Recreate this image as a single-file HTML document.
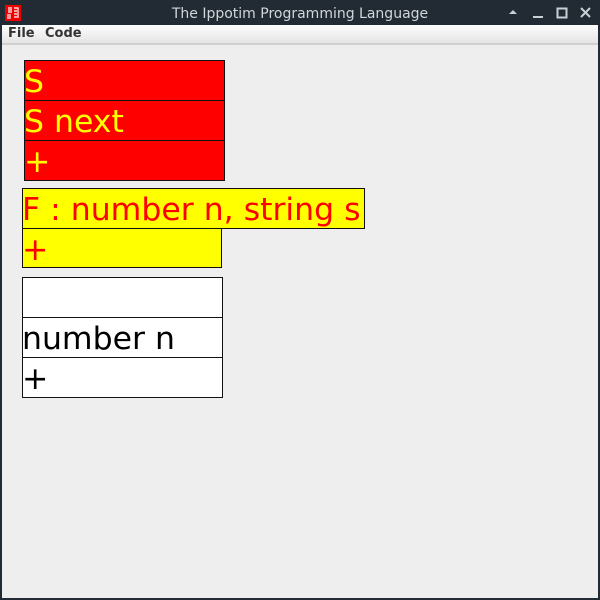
<!DOCTYPE html>
<html><head><style>
*{margin:0;padding:0;box-sizing:border-box}
body{width:600px;height:600px;background:#222b33;position:relative;overflow:hidden;font-family:"DejaVu Sans","Liberation Sans",sans-serif}
.title{position:absolute;left:0;top:0;width:600px;height:25px;color:#d0d6da;font-size:14px;text-align:center;line-height:29px}
.menu{position:absolute;left:2px;top:25px;width:596px;height:20px;background:linear-gradient(#fdfdfd,#e4e4e4);border-bottom:2px solid #cfcfcf;font-size:13px;font-weight:bold;color:#333;line-height:18px}
.content{position:absolute;left:2px;top:45px;width:596px;height:553px;background:#eeeeee}
.c{position:absolute;border:1px solid #111;font-size:31.5px;line-height:42px;text-indent:-1px;white-space:nowrap;overflow:visible}
.r{background:#ff0000;color:#ffff00}
.y{background:#ffff00;color:#ff0000}
.w{background:#fff;color:#000}
</style></head><body>
<div class="title">The Ippotim Programming Language</div>
<svg style="position:absolute;left:5px;top:5px" width="16" height="16"><rect width="16" height="16" fill="#e00"/><path d="M3 3h4M3 5h4M3 7h4M3 9v5M5 9v5M9 3h4v10M9 6h3M9 9h3M9 12h3" stroke="#fff" stroke-width="1.2" fill="none"/></svg>
<svg style="position:absolute;left:505px;top:6px" width="95" height="14"><path d="M4 8l4-4 4 4z" fill="#c8d0d4"/><path d="M28 11h10" stroke="#c8d0d4" stroke-width="2"/><rect x="52.5" y="2.5" width="9" height="9" fill="none" stroke="#c8d0d4" stroke-width="2"/><path d="M76 2l9 9M85 2l-9 9" stroke="#c8d0d4" stroke-width="2"/></svg>
<div class="menu"><span style="position:absolute;left:6px">File</span><span style="position:absolute;left:43px">Code</span></div>
<div class="content"></div>
<div class="c r" style="left:24px;top:60px;width:201px;height:41px">S</div>
<div class="c r" style="left:24px;top:100px;width:201px;height:41px">S next</div>
<div class="c r" style="left:24px;top:140px;width:201px;height:41px">+</div>
<div class="c y" style="left:22px;top:188px;width:343px;height:41px">F : number n, string s</div>
<div class="c y" style="left:22px;top:228px;width:200px;height:40px">+</div>
<div class="c w" style="left:22px;top:277px;width:201px;height:41px"></div>
<div class="c w" style="left:22px;top:317px;width:201px;height:41px">number n</div>
<div class="c w" style="left:22px;top:357px;width:201px;height:41px">+</div>
</body></html>
